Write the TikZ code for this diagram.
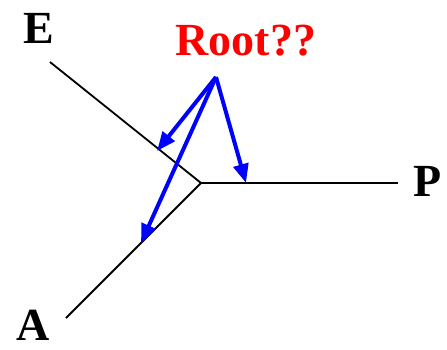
\documentclass[tikz,border=0pt]{standalone}
\usepackage{fontspec}
\setmainfont{Liberation Serif}
\usetikzlibrary{arrows.meta}

\begin{document}
\begin{tikzpicture}[
    x=1pt, y=-1pt,
    every node/.style={font=\fontsize{46}{50}\selectfont\bfseries, inner sep=0pt},
    branch/.style={black, line width=1.8pt},
    guess/.style={blue, line width=4pt, -{Triangle[length=19pt,width=15pt]}}
]
\useasboundingbox (0,0) rectangle (447,349);

% Leaf labels
\node (E) at (39,28) {E};
\node (P) at (428,181) {P};
\node (A) at (33,325) {A};
\node[red] (root) at (246,41) {Root??};

% Tree branches
\coordinate (c) at (201,183);
\coordinate (eEnd) at (50,62);
\coordinate (pEnd) at (398,183);
\coordinate (aEnd) at (66,318);
\draw[branch] (eEnd) -- (c);
\draw[branch] (c) -- (pEnd);
\draw[branch] (c) -- (aEnd);

% Candidate root positions
\coordinate (src) at (216,77);
\coordinate (onE) at (157,151);
\coordinate (onP) at (246,183);
\coordinate (onA) at (141,243);
\draw[guess] (src) -- (onE);
\draw[guess] (src) -- (onP);
\draw[guess] (src) -- (onA);

\end{tikzpicture}
\end{document}
